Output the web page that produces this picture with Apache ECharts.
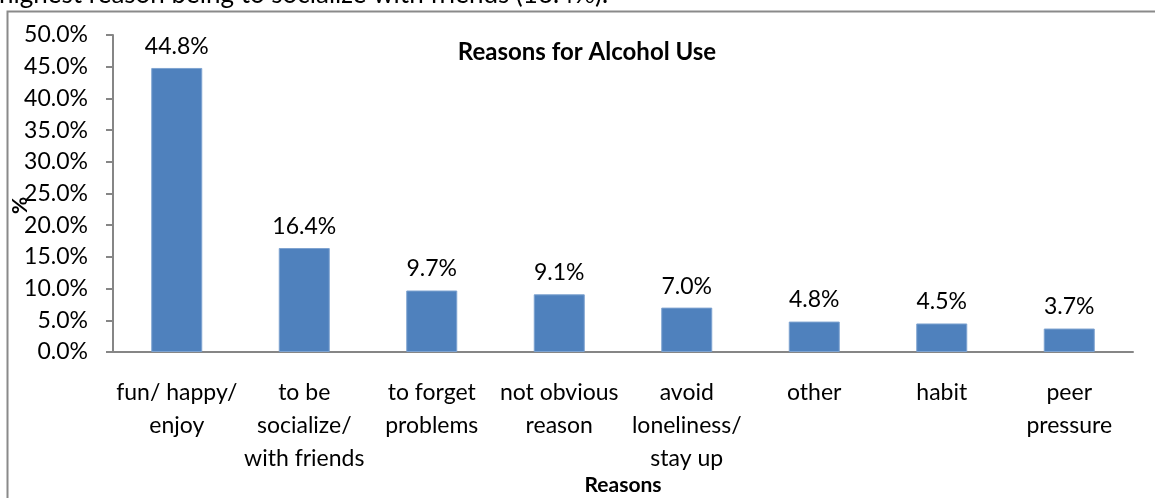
<!DOCTYPE html>
<html><head><meta charset="utf-8">
<script src="https://cdn.jsdelivr.net/npm/echarts@6/dist/echarts.min.js"></script>
<style>html,body{margin:0;padding:0;background:#fff;}#c{width:1155px;height:498px;}</style>
</head><body><div id="c"></div>
<script>
const categories = ['fun/ happy/\nenjoy', 'to be\nsocialize/\nwith friends', 'to forget\nproblems', 'not obvious\nreason', 'avoid\nloneliness/\nstay up', 'other', 'habit', 'peer\npressure'];
const values = [44.8, 16.4, 9.7, 9.1, 7.0, 4.8, 4.5, 3.7];
const yTicks = { min: 0, max: 50, interval: 5 };
const FONT = 'Lato';
const chart = echarts.init(document.getElementById('c'), null, { renderer: 'canvas' });
chart.setOption({
  animation: false,
  backgroundColor: '#fff',
  textStyle: { fontFamily: FONT, color: '#000' },
  title: {
    text: 'Reasons for Alcohol Use', left: 582, top: 35, textAlign: 'center',
    textStyle: { fontFamily: FONT, fontWeight: 'bold', fontSize: 24, color: '#000' }
  },
  graphic: [
    { type: 'rect', shape: { x: 7.5, y: 11.5, width: 1200, height: 600 }, style: { fill: 'none', stroke: '#8a8a8a', lineWidth: 2 }, z: -1 },
    { type: 'text', left: -1, top: -18, style: { text: 'highest reason being to socialize with friends (16.4%).', font: '26px Lato', fill: '#000' } }
  ],
  grid: { left: 113, right: 22, top: 35, bottom: 146, containLabel: false, outerBoundsMode: 'none' },
  xAxis: {
    type: 'category', data: categories,
    name: 'Reasons', nameLocation: 'middle', nameGap: 123, nameMoveOverlap: false,
    nameTextStyle: { fontFamily: FONT, fontWeight: 'bold', fontSize: 21, color: '#000' },
    axisLine: { lineStyle: { color: '#868686', width: 2 } },
    axisTick: { show: false },
    axisLabel: { interval: 0, margin: 24, fontSize: 23, lineHeight: 33, color: '#000', fontFamily: FONT }
  },
  yAxis: {
    type: 'value', min: yTicks.min, max: yTicks.max, interval: yTicks.interval,
    name: '%', nameLocation: 'middle', nameGap: 82, nameRotate: 90, nameMoveOverlap: false,
    nameTextStyle: { fontFamily: FONT, fontWeight: 'bold', fontSize: 21, color: '#000', padding: [0, 24, 0, 0] },
    axisLine: { show: true, lineStyle: { color: '#868686', width: 2 } },
    axisTick: { show: true, length: 7, inside: false, lineStyle: { color: '#868686', width: 2 } },
    splitLine: { show: false },
    axisLabel: { margin: 25, fontSize: 23, color: '#000', fontFamily: FONT, formatter: v => v.toFixed(1) + '%' }
  },
  series: [{
    type: 'bar', data: values, barWidth: 51,
    itemStyle: { color: '#4F81BD', borderColor: '#7ea3d0', borderWidth: 1 },
    label: { show: true, position: 'top', distance: 10, fontSize: 23, color: '#000', fontFamily: FONT, formatter: p => p.value.toFixed(1) + '%' }
  }]
});
</script></body></html>
